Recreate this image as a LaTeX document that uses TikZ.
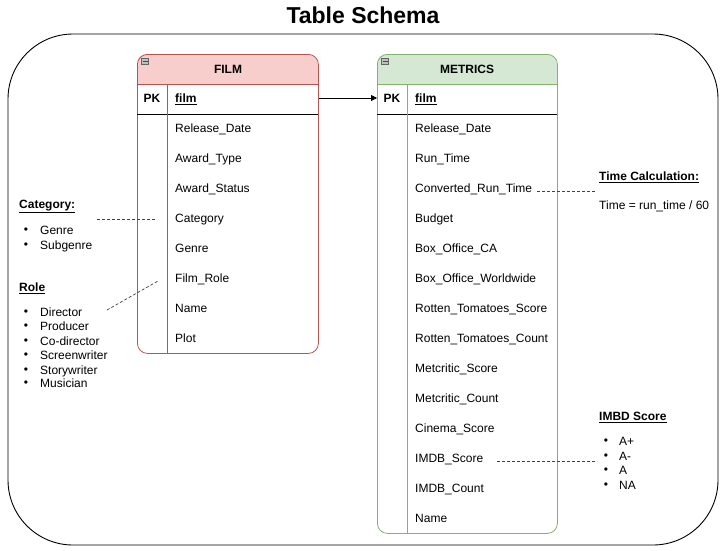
\documentclass[tikz,border=0pt]{standalone}
\usepackage{fontspec}
\setmainfont{Liberation Sans}
\usetikzlibrary{arrows.meta}
\definecolor{filmfill}{HTML}{F8CECC}
\definecolor{filmdraw}{HTML}{B85450}
\definecolor{metfill}{HTML}{D5E8D4}
\definecolor{metdraw}{HTML}{82B366}
\begin{document}
\begin{tikzpicture}[x=1pt,y=-1pt,
  every node/.style={font=\fontsize{12}{14}\selectfont, inner sep=0pt, text height=8.6pt, text depth=0pt},
  row/.style={anchor=west},
  hdr/.style={font=\bfseries\fontsize{12}{14}\selectfont},
  lbl/.style={anchor=west, font=\bfseries\fontsize{12}{14}\selectfont},
  item/.style={anchor=west},
  bul/.style={anchor=center, font=\fontsize{12}{14}\selectfont, text height=6pt},
  dline/.style={draw=black!75, dash pattern=on 3pt off 2pt, line width=0.7pt},
  icon/.style={draw=black!60, fill=black!25, minimum width=7pt, minimum height=6pt, line width=0.5pt, text height=0pt}
]
\useasboundingbox (0,0) rectangle (725,550);
\fill[white] (0,0) rectangle (725,550);
\node[font=\bfseries\fontsize{23}{27}\selectfont, text height=16pt] (title) at (363,15) {Table Schema};
\draw[line width=0.9pt, rounded corners=65] (8,34) rectangle (718,545);

% FILM table
\begin{scope}
\clip[rounded corners=10] (137,54) rectangle (318,353);
\fill[filmfill] (137,54) rectangle (318,84);
\end{scope}
\node[draw=filmdraw, line width=0.8pt, rounded corners=10, minimum width=181pt, minimum height=299pt, anchor=north west, text height=0pt] (film) at (137,54) {};
\draw[filmdraw, line width=0.8pt] (137,84) -- (318,84);
\draw[black, line width=0.8pt] (137,114) -- (318,114);
\draw[filmdraw, line width=0.8pt] (167,84) -- (167,353);
\node[icon] (ficon) at (145,61) {};
\draw[black!70, line width=0.6pt] (142.5,61) -- (147.5,61);
\node[hdr] (fname) at (228,69) {FILM};
\node[hdr] (fpkl) at (152,98) {PK};
\node[row, font=\bfseries\fontsize{12}{14}\selectfont] (fpk) at (175,98) {\underline{film}};
\node[row] (f1) at (175,128) {Release\_Date};
\node[row] (f2) at (175,158) {Award\_Type};
\node[row] (f3) at (175,188) {Award\_Status};
\node[row] (fcat) at (175,218) {Category};
\node[row] (f5) at (175,248) {Genre};
\node[row] (frole) at (175,278) {Film\_Role};
\node[row] (f7) at (175,308) {Name};
\node[row] (f8) at (175,338) {Plot};

% METRICS table
\begin{scope}
\clip[rounded corners=10] (377,54) rectangle (557,533);
\fill[metfill] (377,54) rectangle (557,84);
\end{scope}
\node[draw=metdraw, line width=0.8pt, rounded corners=10, minimum width=180pt, minimum height=479pt, anchor=north west, text height=0pt] (metrics) at (377,54) {};
\draw[metdraw, line width=0.8pt] (377,84) -- (557,84);
\draw[black, line width=0.8pt] (377,114) -- (557,114);
\draw[metdraw, line width=0.8pt] (407,84) -- (407,533);
\node[icon] (micon) at (385,61) {};
\draw[black!70, line width=0.6pt] (382.5,61) -- (387.5,61);
\node[hdr] (mname) at (467,69) {METRICS};
\node[hdr] (mpkl) at (392,98) {PK};
\node[row, font=\bfseries\fontsize{12}{14}\selectfont] (mpk) at (415,98) {\underline{film}};
\node[row] (m1) at (415,128) {Release\_Date};
\node[row] (m2) at (415,158) {Run\_Time};
\node[row] (mconv) at (415,188) {Converted\_Run\_Time};
\node[row] (m4) at (415,218) {Budget};
\node[row] (m5) at (415,248) {Box\_Office\_CA};
\node[row] (m6) at (415,278) {Box\_Office\_Worldwide};
\node[row] (m7) at (415,308) {Rotten\_Tomatoes\_Score};
\node[row] (m8) at (415,338) {Rotten\_Tomatoes\_Count};
\node[row] (m9) at (415,368) {Metcritic\_Score};
\node[row] (m10) at (415,398) {Metcritic\_Count};
\node[row] (m11) at (415,428) {Cinema\_Score};
\node[row] (mimdb) at (415,458) {IMDB\_Score};
\node[row] (m13) at (415,488) {IMDB\_Count};
\node[row] (m14) at (415,518) {Name};

% relation arrow
\draw[line width=0.8pt, -{Triangle[length=6pt,width=6pt]}] (film.east |- fpk) -- (metrics.west |- fpk);

% left annotations
\node[lbl] (catl) at (19,204) {\underline{Category:}};
\node[bul] (cb1) at (26,230) {•}; \node[item] (ci1) at (40,230) {Genre};
\node[bul] (cb2) at (26,245) {•}; \node[item] (ci2) at (40,245) {Subgenre};
\node[lbl] (rolel) at (19,287) {\underline{Role}};
\node[bul] (rb1) at (26,312) {•}; \node[item] (ri1) at (40,312) {Director};
\node[bul] (rb2) at (26,326) {•}; \node[item] (ri2) at (40,326) {Producer};
\node[bul] (rb3) at (26,341) {•}; \node[item] (ri3) at (40,341) {Co-director};
\node[bul] (rb4) at (26,355) {•}; \node[item] (ri4) at (40,355) {Screenwriter};
\node[bul] (rb5) at (26,370) {•}; \node[item] (ri5) at (40,370) {Storywriter};
\node[bul] (rb6) at (26,383) {•}; \node[item] (ri6) at (40,383) {Musician};

\coordinate (ca) at (97,219);
\coordinate (cb) at (155,219);
\draw[dline] (ca) -- (cb);
\coordinate (ra) at (107,310);
\coordinate (rb) at (158,281);
\draw[dline] (ra) -- (rb);

% right annotations
\node[lbl] (timel) at (599,176) {\underline{Time Calculation:}};
\node[item] (timef) at (599,205) {Time = run\_time / 60};
\coordinate (ta) at (537,191);
\coordinate (tb) at (595,191);
\draw[dline] (ta) -- (tb);

\node[lbl] (imdbl) at (599,416) {\underline{IMBD Score}};
\node[bul] (ib1) at (606,441) {•}; \node[item] (ii1) at (619,441) {A+};
\node[bul] (ib2) at (606,456) {•}; \node[item] (ii2) at (619,456) {A-};
\node[bul] (ib3) at (606,470) {•}; \node[item] (ii3) at (619,470) {A};
\node[bul] (ib4) at (606,485) {•}; \node[item] (ii4) at (619,485) {NA};
\coordinate (ia) at (497,461);
\coordinate (ib) at (597,461);
\draw[dline] (ia) -- (ib);
\end{tikzpicture}
\end{document}
